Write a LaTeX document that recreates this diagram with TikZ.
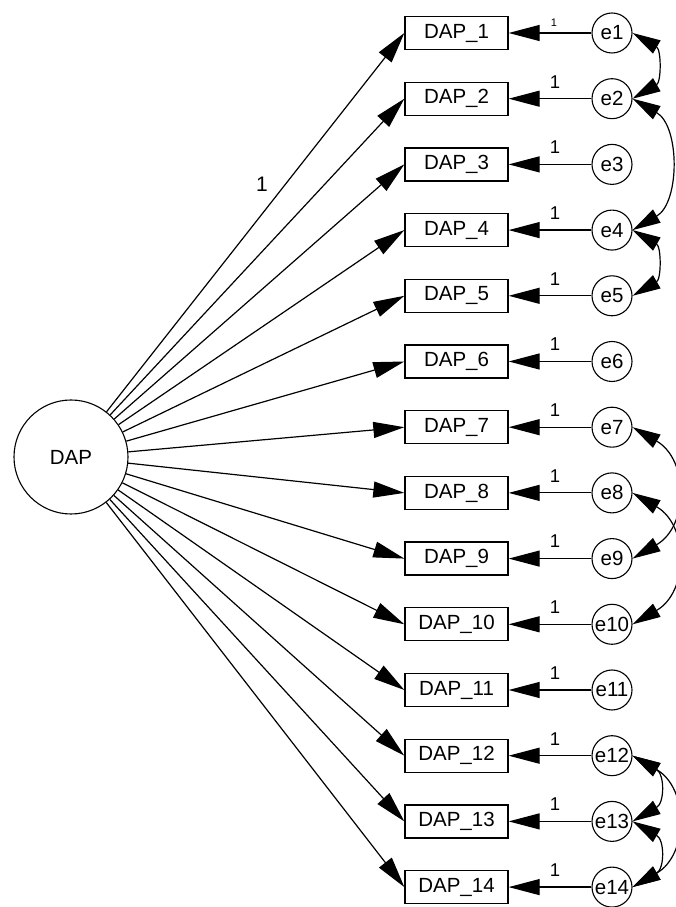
\documentclass[tikz,border=0pt]{standalone}
\usepackage{fontspec}
\setmainfont{Liberation Sans}
\usetikzlibrary{arrows.meta}
\begin{document}
\begin{tikzpicture}[x=1pt,y=1pt,
  obs/.style={draw,line width=1.3pt,minimum width=103pt,minimum height=33pt,inner sep=0pt,font=\fontsize{20.5}{24}\selectfont},
  err/.style={draw,circle,line width=1.1pt,minimum size=40pt,inner sep=0pt,font=\fontsize{20.5}{24}\selectfont},
  lat/.style={draw,circle,line width=1.1pt,minimum size=114pt,inner sep=0pt,font=\fontsize{20.5}{24}\selectfont},
  load/.style={line width=1.2pt,-{Triangle[length=31pt,width=16pt]}},
  cov/.style={line width=1.2pt,{Triangle[length=28pt,width=15pt]}-{Triangle[length=28pt,width=15pt]}},
  one/.style={font=\fontsize{18.5}{20}\selectfont,inner sep=0pt}
]
\useasboundingbox (0,0) rectangle (675,907);
\node[lat] (DAP) at (71,450) {DAP};
\foreach \i in {1,...,14}{
  \pgfmathsetmacro{\yy}{874-(\i-1)*65.7}
  \node[obs] (D\i) at (456.5,\yy) {DAP\_\i};
  \node[err] (e\i) at (612,\yy) {e\i};
  \draw[load] (DAP) -- (D\i.west);
  \draw[load] (e\i) -- (D\i);
}
\foreach \i in {2,...,14}{
  \pgfmathsetmacro{\yy}{874-(\i-1)*65.7}
  \node[one] (l\i) at (555,\yy+17) {1};
}
\node[font=\fontsize{11}{12}\selectfont,inner sep=0pt] (l1) at (554,884) {1};
\node[font=\fontsize{21}{24}\selectfont,inner sep=0pt] (l0) at (262,723) {1};
\draw[cov] (e1.east) to[out=-30,in=30,looseness=1.3] (e2.east);
\draw[cov] (e2.east) to[out=-30,in=30,looseness=1.07] (e4.east);
\draw[cov] (e4.east) to[out=-30,in=30,looseness=1.3] (e5.east);
\draw[cov] (e7.east) to[out=-30,in=30,looseness=1.27] (e9.east);
\draw[cov] (e8.east) to[out=-30,in=30,looseness=1.27] (e10.east);
\draw[cov] (e12.east) to[out=-30,in=30,looseness=1.45] (e13.east);
\draw[cov] (e12.east) to[out=-30,in=30,looseness=1.27] (e14.east);
\draw[cov] (e13.east) to[out=-30,in=30,looseness=1.45] (e14.east);
\end{tikzpicture}
\end{document}
